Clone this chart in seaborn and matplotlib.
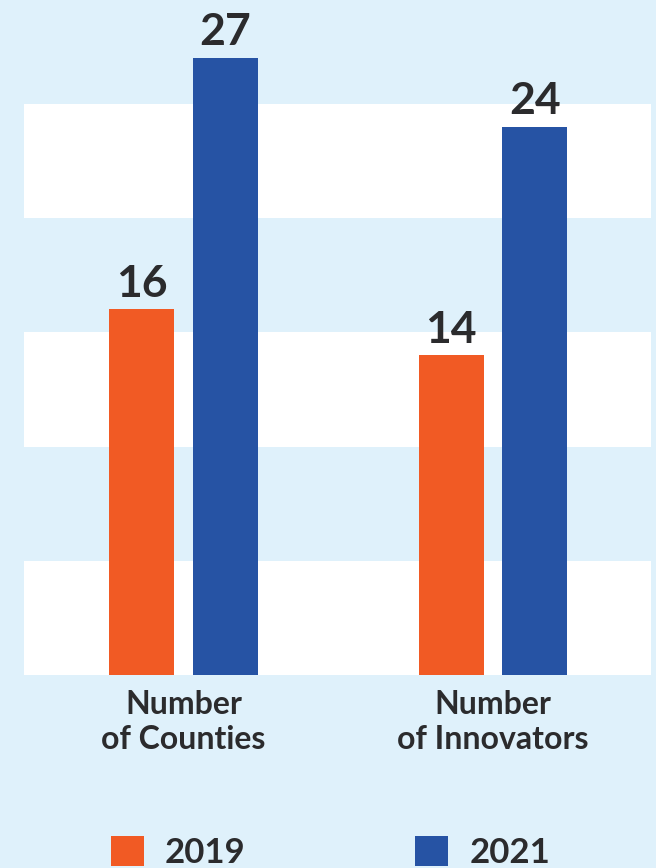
import matplotlib
matplotlib.use("Agg")
import matplotlib.pyplot as plt
import seaborn as sns
import pandas as pd

categories = ["Number\nof Counties", "Number\nof Innovators"]
years = ["2019", "2021"]
values_2019 = [16, 14]
values_2021 = [27, 24]

ORANGE = "#f15a24"
BLUE = "#2653a4"
BG = "#dff1fb"
TEXT = "#2b2b2d"

df = pd.DataFrame({
    "metric": categories * 2,
    "year": [years[0]] * 2 + [years[1]] * 2,
    "value": values_2019 + values_2021,
})

sns.set_theme(style="white")
plt.rcParams["font.family"] = ["Lato", "DejaVu Sans"]

W, H = 656, 868
fig = plt.figure(figsize=(W / 100, H / 100), dpi=100, facecolor=BG)
ax = fig.add_axes([24 / W, (H - 675) / H, (651 - 24) / W, 675 / H])
ax.set_facecolor(BG)

for lo, hi in [(0, 5), (10, 15), (20, 25)]:
    ax.axhspan(lo, hi, color="white", zorder=0, lw=0)

sns.barplot(data=df, x="metric", y="value", hue="year", palette=[ORANGE, BLUE],
            width=0.54, gap=0.22, saturation=1, linewidth=0, ax=ax, zorder=2)

for cont in ax.containers:
    ax.bar_label(cont, padding=4, fontsize=32, fontweight="bold", color=TEXT)

ax.set_xlim(-0.515, 1.51)
ax.set_ylim(0, 675 / 22.85)
ax.set_xlabel("")
ax.set_ylabel("")
ax.set_yticks([])
ax.tick_params(axis="x", length=0, pad=11)
for lab in ax.get_xticklabels():
    lab.set_fontsize(23)
    lab.set_fontweight("bold")
    lab.set_color(TEXT)
    lab.set_linespacing(1.25)
for s in ax.spines.values():
    s.set_visible(False)

sns.move_legend(ax, loc="lower left", bbox_to_anchor=(97 / W, -15 / H),
                bbox_transform=fig.transFigure, ncol=2, frameon=False,
                title=None, fontsize=25, handlelength=0.95, handleheight=0.95,
                handletextpad=0.6, columnspacing=4.9, borderaxespad=0)
for t in ax.get_legend().get_texts():
    t.set_fontweight("bold")
    t.set_color(TEXT)

fig.savefig("out.png", dpi=100, facecolor=BG)
